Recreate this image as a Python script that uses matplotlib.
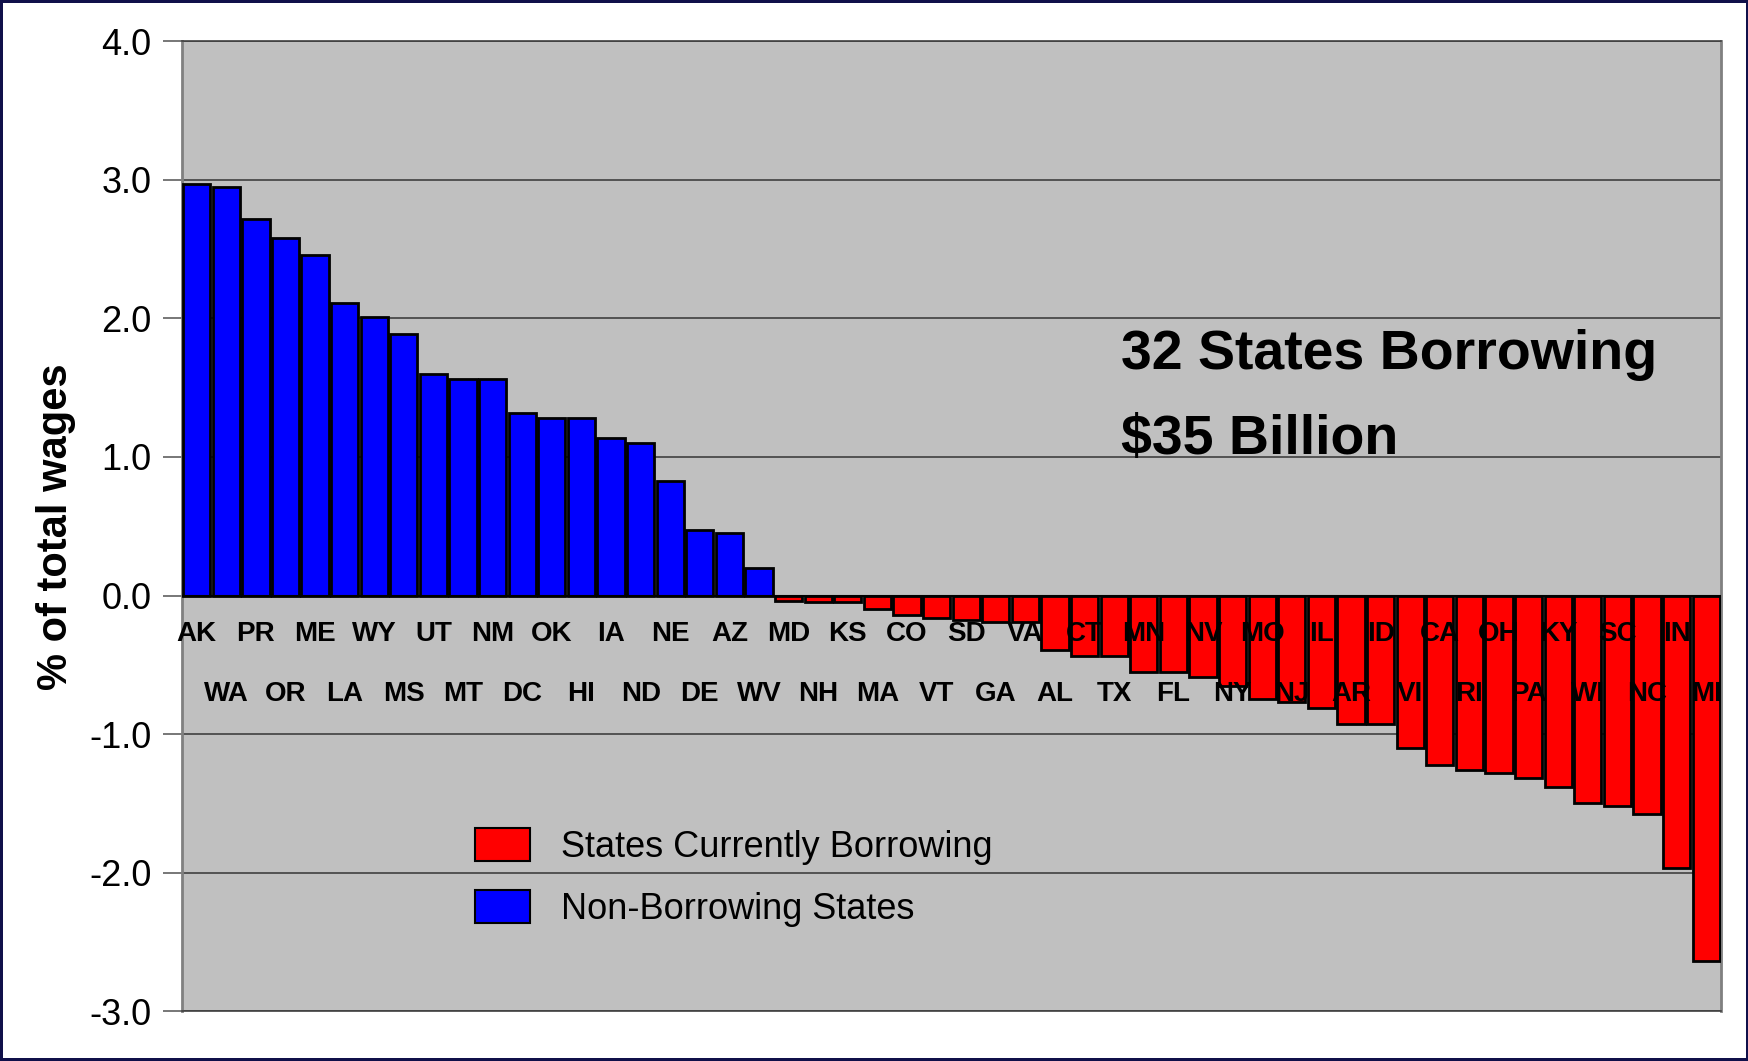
import matplotlib
matplotlib.use("Agg")
import matplotlib.pyplot as plt
from matplotlib.patches import Patch

# 各州借款占总工资百分比
states = ['AK', 'WA', 'PR', 'OR', 'ME', 'LA', 'WY', 'MS', 'UT', 'MT',
          'NM', 'DC', 'OK', 'HI', 'IA', 'ND', 'NE', 'DE', 'AZ', 'WV',
          'MD', 'NH', 'KS', 'MA', 'CO', 'VT', 'SD', 'GA', 'VA', 'AL',
          'CT', 'TX', 'MN', 'FL', 'NV', 'NY', 'MO', 'NJ', 'IL', 'AR',
          'ID', 'VI', 'CA', 'RI', 'OH', 'PA', 'KY', 'WI', 'SC', 'NC',
          'IN', 'MI']
values = [2.97, 2.95, 2.72, 2.58, 2.46, 2.11, 2.01, 1.89, 1.60, 1.56,
          1.56, 1.32, 1.28, 1.28, 1.14, 1.10, 0.83, 0.47, 0.45, 0.20,
          -0.04, -0.05, -0.05, -0.10, -0.14, -0.16, -0.18, -0.19, -0.19, -0.39,
          -0.44, -0.44, -0.55, -0.55, -0.59, -0.65, -0.75, -0.77, -0.81, -0.93,
          -0.93, -1.10, -1.22, -1.26, -1.28, -1.32, -1.38, -1.50, -1.52, -1.58,
          -1.97, -2.64]
y_ticks = [4.0, 3.0, 2.0, 1.0, 0.0, -1.0, -2.0, -3.0]
legend_labels = ['States Currently Borrowing', 'Non-Borrowing States']
note_lines = ['32 States Borrowing', '$35 Billion']

plt.rcParams['font.family'] = ['Liberation Sans', 'DejaVu Sans']

fig = plt.figure(figsize=(17.49, 10.61), dpi=100, facecolor='white',
                 edgecolor='#10104a', linewidth=3)
ax = fig.add_axes([0.104, 0.047, 0.88, 0.914])
ax.set_facecolor('#c0c0c0')

x = list(range(len(states)))
colors = ['#0000ff' if v > 0 else '#ff0000' for v in values]
ax.bar(x, values, width=0.92, color=colors, edgecolor='black', linewidth=2, zorder=3)

ax.set_xlim(-0.5, len(states) - 0.5)
ax.set_ylim(-3.0, 4.0)
ax.set_yticks(y_ticks)
ax.set_yticklabels([f'{t:.1f}' for t in y_ticks], fontsize=26)
ax.set_xticks([])
ax.tick_params(axis='y', length=14, width=1.2, color='#606060', pad=8)
ax.yaxis.grid(True, color='#404040', linewidth=1.2, zorder=1)
ax.axhline(0, color='black', linewidth=1.5, zorder=4)
for s in ['left', 'right']:
    ax.spines[s].set_color('#808080')
    ax.spines[s].set_linewidth(2)
for s in ['top', 'bottom']:
    ax.spines[s].set_color('#404040')
    ax.spines[s].set_linewidth(1.2)

# 州名分两行交错显示
for i, name in enumerate(states):
    ypos = -0.275 if i % 2 == 0 else -0.71
    ax.text(i, ypos, name, ha='center', va='center', fontsize=20,
            fontweight='bold', zorder=5)

ax.set_ylabel('% of total wages', fontsize=30, fontweight='bold', labelpad=9)

# 右上角说明文字
for line, ypos in zip(note_lines, [0.662, 0.574]):
    ax.text(0.61, ypos, line, transform=ax.transAxes, fontsize=40,
            fontweight='bold', va='baseline', ha='left')

handles = [Patch(facecolor='#ff0000', edgecolor='black', linewidth=1.5),
           Patch(facecolor='#0000ff', edgecolor='black', linewidth=1.5)]
ax.legend(handles, legend_labels, loc='center left', bbox_to_anchor=(0.169, 0.138),
          frameon=False, prop={'size': 26},
          handlelength=1.55, handleheight=1.05, labelspacing=0.7, handletextpad=0.85)

fig.savefig('out.png', dpi=100)
